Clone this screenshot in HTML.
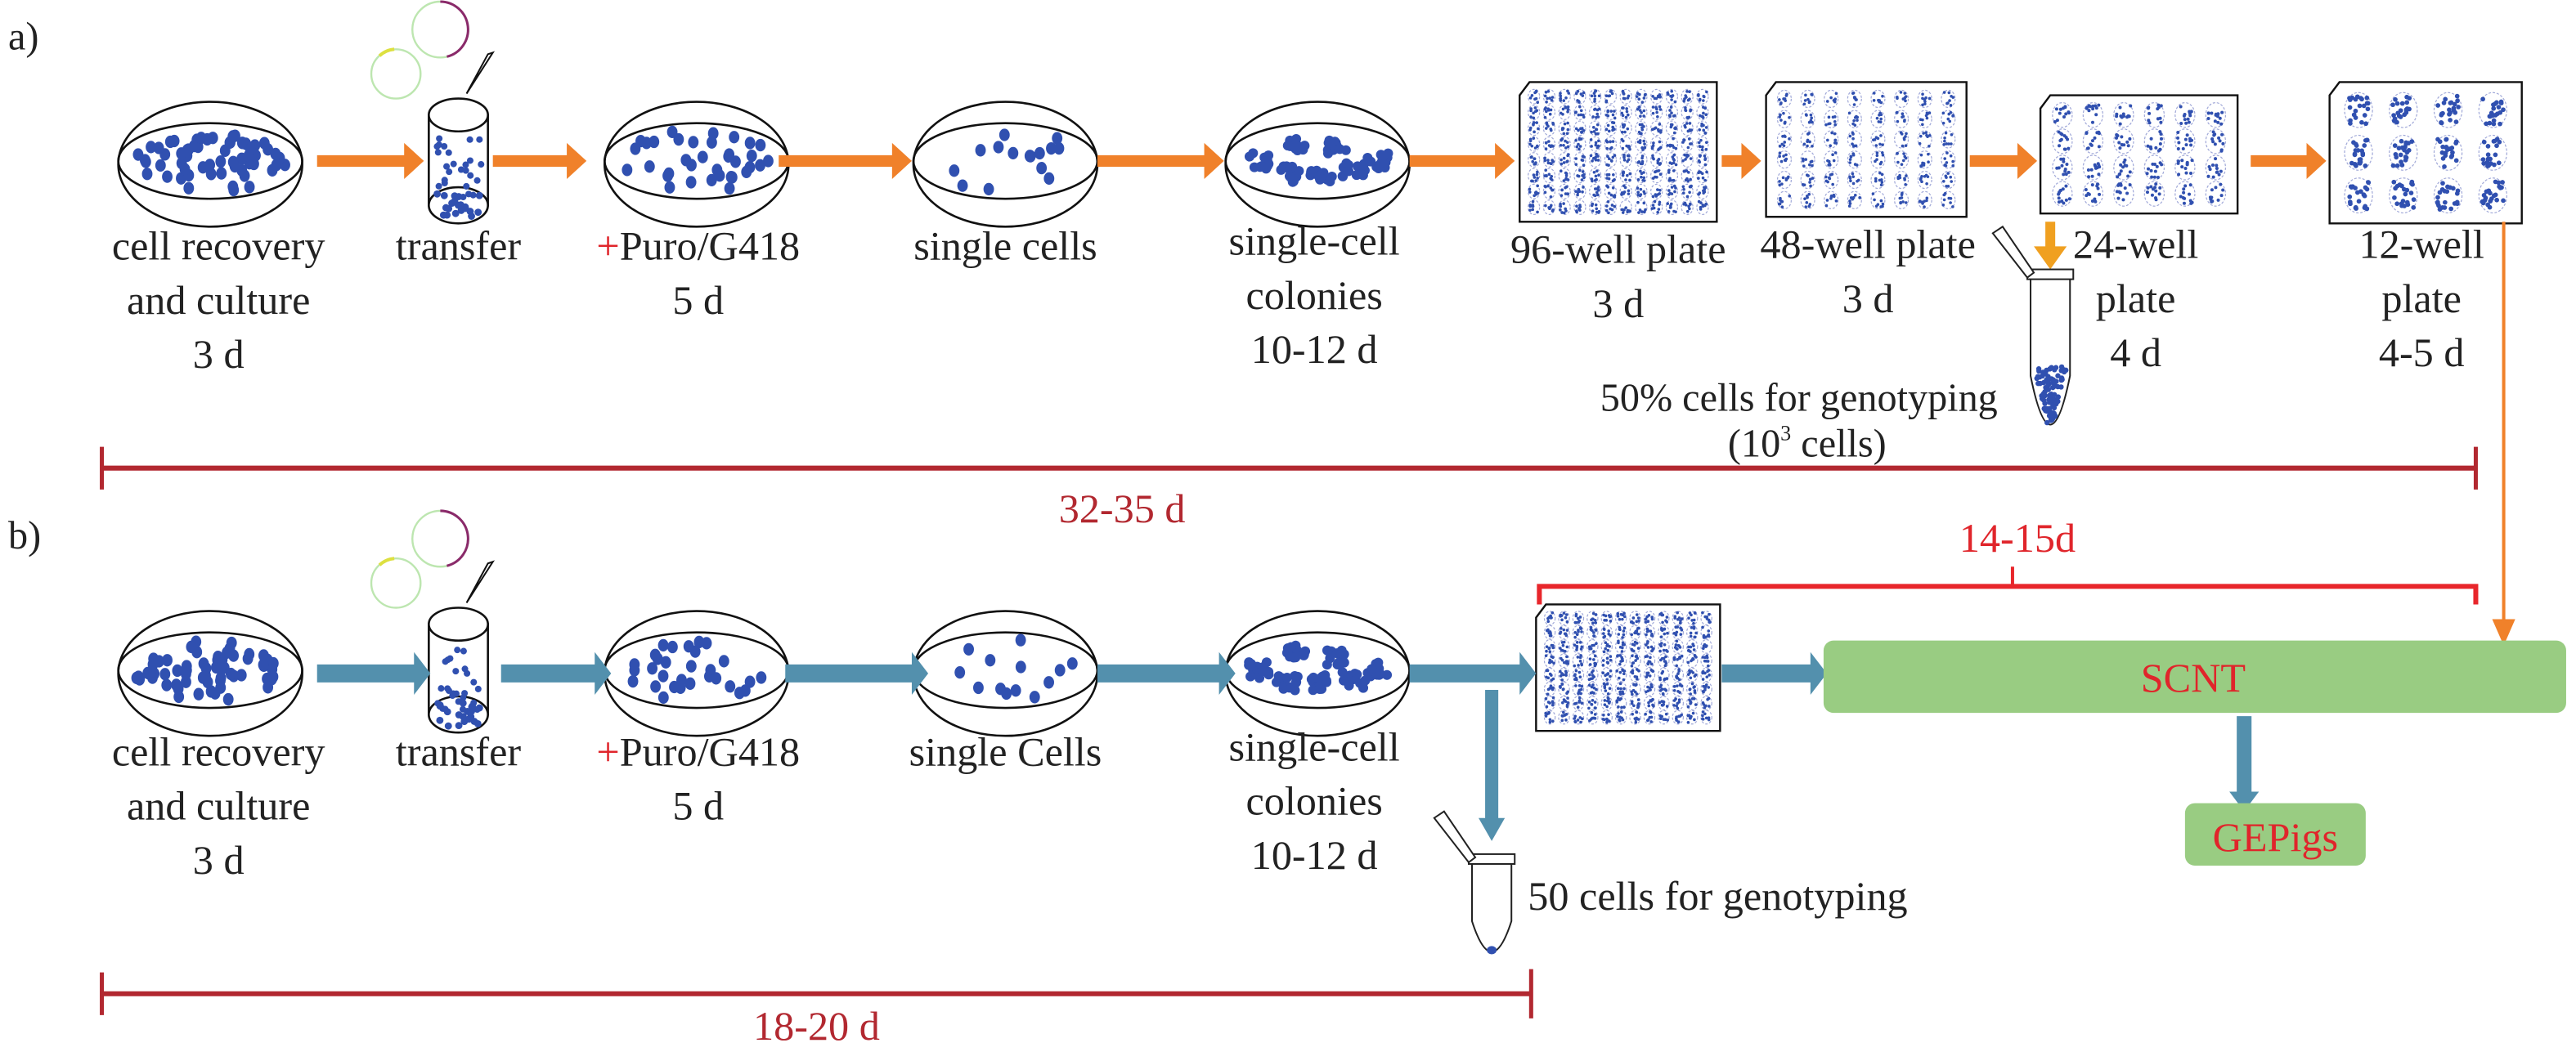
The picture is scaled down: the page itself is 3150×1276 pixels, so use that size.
<!DOCTYPE html>
<html><head><meta charset="utf-8"><style>
html,body{margin:0;padding:0;background:#fff;width:3150px;height:1276px;overflow:hidden}
svg{display:block}
svg text, svg tspan{font-family:"Liberation Serif","Times New Roman",Times,serif !important}
</style></head><body>
<svg id="s" xmlns="http://www.w3.org/2000/svg" width="3150" height="1276" viewBox="0 0 1568 635" preserveAspectRatio="none">
<g id="g"></g>
<g font-size="25" text-anchor="middle" fill="#222">
<text x="5" y="30" text-anchor="start" font-size="24">a)</text>
<text x="133" y="158">cell recovery</text>
<text x="133" y="191">and culture</text>
<text x="133" y="224">3 d</text>
<text x="279" y="158">transfer</text>
<text x="425" y="158"><tspan fill="#e0252b">+</tspan>Puro/G418</text>
<text x="425" y="191">5 d</text>
<text x="612" y="158">single cells</text>
<text x="800" y="155">single-cell</text>
<text x="800" y="188">colonies</text>
<text x="800" y="221">10-12 d</text>
<text x="985" y="160">96-well plate</text>
<text x="985" y="193">3 d</text>
<text x="1137" y="157">48-well plate</text>
<text x="1137" y="190">3 d</text>
<text x="1300" y="157">24-well</text>
<text x="1300" y="190">plate</text>
<text x="1300" y="223">4 d</text>
<text x="1474" y="157">12-well</text>
<text x="1474" y="190">plate</text>
<text x="1474" y="223">4-5 d</text>
<text x="1095" y="250" font-size="24">50% cells for genotyping</text>
<text x="1100" y="278" font-size="24">(10<tspan font-size="13" dy="-10">3</tspan><tspan dy="10"> cells)</tspan></text>
<text x="683" y="318" fill="#b22830">32-35 d</text>
<text x="5" y="334" text-anchor="start" font-size="24">b)</text>
<text x="133" y="466">cell recovery</text>
<text x="133" y="499">and culture</text>
<text x="133" y="532">3 d</text>
<text x="279" y="466">transfer</text>
<text x="425" y="466"><tspan fill="#e0252b">+</tspan>Puro/G418</text>
<text x="425" y="499">5 d</text>
<text x="612" y="466">single Cells</text>
<text x="800" y="463">single-cell</text>
<text x="800" y="496">colonies</text>
<text x="800" y="529">10-12 d</text>
<text x="930" y="554" text-anchor="start">50 cells for genotyping</text>
<text x="497" y="633" fill="#b22830">18-20 d</text>
<text x="1228" y="336" fill="#e0252b">14-15d</text>
<text x="1335" y="421" fill="#e0252b">SCNT</text>
<text x="1385" y="518" fill="#e0252b">GEPigs</text>
</g>
</svg>
<script>
var NS="http://www.w3.org/2000/svg",G=document.getElementById('g');
function el(t,a){var e=document.createElementNS(NS,t);for(var k in a)e.setAttribute(k,a[k]);G.appendChild(e);return e;}
var seed=7;function R(){seed=(seed*16807)%2147483647;return seed/2147483647;}
var BL="#3050b0";
function dish(cx,cy,n,col){
  el('ellipse',{cx:cx,cy:cy+1,rx:56,ry:38,fill:'none',stroke:'#111','stroke-width':1.3});
  el('ellipse',{cx:cx,cy:cy-1,rx:56,ry:23,fill:'none',stroke:'#111','stroke-width':1.3});
  if(col){
    var cs=[[-35,0],[-14,-10],[12,-8],[36,0],[-18,8],[2,8],[22,6]];
    cs.forEach(function(c){for(var i=0;i<14;i++){el('circle',{cx:cx+c[0]+(R()-.5)*14,cy:cy-1+c[1]+(R()-.5)*10,r:3,fill:BL});}});
    return;}
  for(var i=0;i<n;i++){var a,b;do{a=R()*2-1;b=R()*2-1;}while(a*a+b*b>0.8);
    el('ellipse',{cx:cx+a*52,cy:cy-1+b*21,rx:3.2,ry:3.8,fill:BL});}
}
function tube(cx,y0){
  el('rect',{x:cx-18,y:y0+10,width:36,height:55,fill:'#fff',stroke:'#111','stroke-width':1.3});
  el('ellipse',{cx:cx,cy:y0+65,rx:18,ry:11,fill:'#fff',stroke:'#111','stroke-width':1.3});
  el('ellipse',{cx:cx,cy:y0+10,rx:18,ry:10,fill:'#fff',stroke:'#111','stroke-width':1.3});
  for(var i=0;i<25;i++)el('circle',{cx:cx-14+R()*28,cy:y0+24+R()*38,r:2,fill:BL});
  for(var i=0;i<20;i++)el('circle',{cx:cx-13+R()*26,cy:y0+58+R()*14,r:2.2,fill:BL});
  el('circle',{cx:cx-38,cy:y0-15,r:15,fill:'none',stroke:'#bde6b0','stroke-width':1.2});
  el('path',{d:'M'+(cx-48)+' '+(y0-26)+' a15 15 0 0 1 9 -4',stroke:'#dde040','stroke-width':2,fill:'none'});
  el('circle',{cx:cx-11,cy:y0-42,r:17,fill:'none',stroke:'#bde6b0','stroke-width':1.2});
  el('path',{d:'M'+(cx-11)+' '+(y0-59)+' a17 17 0 0 1 4 33.5',stroke:'#8a2a6a','stroke-width':1.5,fill:'none'});
  el('path',{d:'M'+(cx+5)+' '+(y0-3)+' L'+(cx+21)+' '+(y0-28)+' L'+(cx+18)+' '+(y0-27)+' Z',stroke:'#111','stroke-width':1,fill:'none'});
}
function plate(x,y,w,h,cols,rows,dots,rw){
  el('path',{d:'M'+(x+6)+' '+y+' L'+(x+w)+' '+y+' L'+(x+w)+' '+(y+h)+' L'+x+' '+(y+h)+' L'+x+' '+(y+8)+' Z',fill:'#fff',stroke:'#111','stroke-width':1.2});
  var dx=(w-8)/cols,dy=(h-8)/rows;
  for(var i=0;i<cols;i++)for(var j=0;j<rows;j++){
    var cx=x+4+dx*(i+.5),cy=y+4+dy*(j+.5);
    el('ellipse',{cx:cx,cy:cy,rx:rw,ry:rw*1.25,fill:'none',stroke:'#a0a8d8','stroke-width':.6,'stroke-dasharray':'1.5 1'});
    for(var k=0;k<dots;k++)el('circle',{cx:cx+(R()-.5)*rw*1.5,cy:cy+(R()-.5)*rw*2,r:Math.max(.9,rw/6),fill:BL});
  }
}
function harrow(x1,x2,y,col,sh,hw,hl){
  el('path',{d:'M'+x1+' '+(y-sh/2)+' L'+(x2-hl)+' '+(y-sh/2)+' L'+(x2-hl)+' '+(y-hw/2)+' L'+x2+' '+y+' L'+(x2-hl)+' '+(y+hw/2)+' L'+(x2-hl)+' '+(y+sh/2)+' L'+x1+' '+(y+sh/2)+' Z',fill:col});
}
function varrow(x,y1,y2,col,sh,hw,hl){
  el('path',{d:'M'+(x-sh/2)+' '+y1+' L'+(x-sh/2)+' '+(y2-hl)+' L'+(x-hw/2)+' '+(y2-hl)+' L'+x+' '+y2+' L'+(x+hw/2)+' '+(y2-hl)+' L'+(x+sh/2)+' '+(y2-hl)+' L'+(x+sh/2)+' '+y1+' Z',fill:col});
}
function etube(x,y,len,full){
  el('path',{d:'M'+(x-12)+' '+(y+5)+' L'+(x-12)+' '+(y+len*0.6)+' Q'+x+' '+(y+len*1.15)+' '+(x+12)+' '+(y+len*0.6)+' L'+(x+12)+' '+(y+5)+' Z',fill:'#fff',stroke:'#222','stroke-width':1});
  el('rect',{x:x-14,y:y,width:28,height:6,fill:'#fff',stroke:'#222','stroke-width':1});
  el('path',{d:'M'+(x-14)+' '+(y+5)+' L'+(x-35)+' '+(y-22)+' L'+(x-29)+' '+(y-26)+' L'+(x-10)+' '+(y+2)+' Z',fill:'#fff',stroke:'#222','stroke-width':1});
  if(full){for(var i=0;i<90;i++){var t=R();el('circle',{cx:x+(R()-.5)*20*(1-t*.8),cy:y+len*0.55+t*len*0.32,r:1.6,fill:BL});}}
  else el('ellipse',{cx:x,cy:y+len*0.86,rx:3,ry:2.5,fill:BL});
}
var OR="#f0812a",BU="#5390ad";
dish(128,99,60);tube(279,60);dish(424,99,35);dish(612,99,15);dish(802,99,0,true);
plate(925,50,120,85,12,8,8,3.5);plate(1075,50,122,82,8,6,8,4.2);plate(1242,58,120,72,6,4,12,6);plate(1418,50,117,86,4,3,22,8.5);
[[193,258],[300,357],[474,555],[668,745],[858,922],[1048,1072],[1199,1240],[1370,1416]].forEach(function(a){harrow(a[0],a[1],98,OR,7,22,12);});
varrow(1248,135,164,"#f0a020",6,20,14);
etube(1248,164,108,true);
el('line',{x1:62,y1:285,x2:1507,y2:285,stroke:'#b22830','stroke-width':3});
el('line',{x1:62,y1:272,x2:62,y2:298,stroke:'#b22830','stroke-width':2.5});
el('line',{x1:1507,y1:272,x2:1507,y2:298,stroke:'#b22830','stroke-width':2.5});
el('line',{x1:1524,y1:135,x2:1524,y2:378,stroke:OR,'stroke-width':2});
el('path',{d:'M1517 377 L1531 377 L1524 393 Z',fill:OR});
dish(128,409,60);tube(279,370);dish(424,409,30);dish(612,409,13);dish(802,409,0,true);
plate(935,368,112,77,12,8,8,3.3);
[[193,262],[305,372],[478,565],[668,752],[858,935],[1048,1112]].forEach(function(a){harrow(a[0],a[1],410,BU,11,26,10);});
varrow(908,420,512,BU,8,16,14);
etube(908,520,68,false);
el('rect',{x:1110,y:390,width:452,height:44,rx:6,fill:'#99cc82'});
varrow(1366,436,494,BU,9,18,12);
el('rect',{x:1330,y:489,width:110,height:38,rx:6,fill:'#99cc82'});
el('path',{d:'M937 368 L937 357 L1507 357 L1507 368',fill:'none',stroke:'#e8262b','stroke-width':3});
el('line',{x1:1225,y1:345,x2:1225,y2:357,stroke:'#e8262b','stroke-width':2});
el('line',{x1:62,y1:605,x2:932,y2:605,stroke:'#b22830','stroke-width':3});
el('line',{x1:62,y1:592,x2:62,y2:618,stroke:'#b22830','stroke-width':2.5});
el('line',{x1:932,y1:590,x2:932,y2:620,stroke:'#b22830','stroke-width':2.5});
</script>
</body></html>
